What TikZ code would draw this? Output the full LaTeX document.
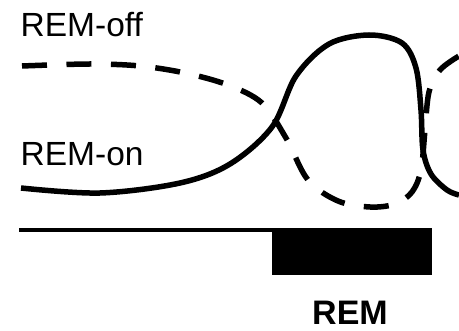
\documentclass[tikz,border=0pt]{standalone}
\usepackage{fontspec}
\setmainfont{Liberation Sans}
\begin{document}
\begin{tikzpicture}[x=1pt,y=-1pt,
  lbl/.style={inner sep=0pt,font=\fontsize{33.5}{38}\selectfont},
  curve/.style={line width=5.5pt},
  offcurve/.style={curve,dash pattern=on 25pt off 19.5pt}]
\useasboundingbox (0,0) rectangle (459,331);
% state labels
\node[lbl,anchor=base west] (off) at (20.5,37) {REM-off};
\node[lbl,anchor=base west] (on) at (20.5,165.5) {REM-on};
\node[lbl,anchor=base,font=\fontsize{34}{38}\selectfont\bfseries] (rem) at (350,325) {REM};
% REM-off activity (dashed)
\draw[offcurve] plot[smooth,tension=0.55] coordinates {
  (22,66) (90,64) (140,66) (185,73) (228,85) (262,103) (286,138) (308,180)
  (338,201) (370,207) (395,204) (412,192) (421,170) (425,130) (429,92)
  (440,70) (459,56)};
% REM-on activity (solid)
\draw[curve] plot[smooth,tension=0.55] coordinates {
  (21,188) (100,193) (180,183) (230,164) (272,127) (296,76) (329,44)
  (369,35) (402,43) (416,68) (421,110) (423,150) (431,174) (447,190) (459,195)};
% hypnogram: baseline and REM episode
\draw[line width=3.5pt] (19,230) -- (274,230);
\fill (272,228.5) rectangle (432,275);
\end{tikzpicture}
\end{document}
